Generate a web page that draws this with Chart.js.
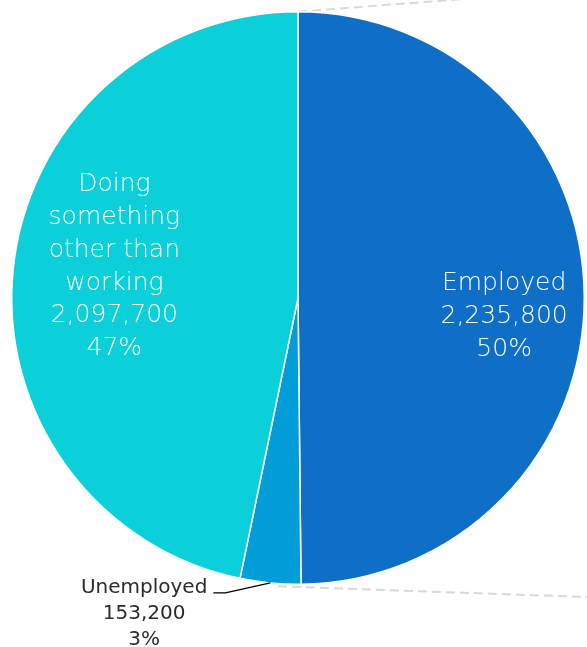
<!DOCTYPE html>
<html>
<head>
<meta charset="utf-8">
<script src="https://cdn.jsdelivr.net/npm/chart.js@4"></script>
<style>
  html, body { margin: 0; padding: 0; background: #fff; }
  #wrap { width: 587px; height: 647px; position: relative; }
</style>
</head>
<body>
<div id="wrap"><canvas id="chart"></canvas></div>
<script>
const categories = ['Employed', 'Unemployed', 'Doing something other than working'];
const values = [2235800, 153200, 2097700];
const colors = ['#0F6FC6', '#009DD9', '#0BD0D9'];

const FONT = '"DejaVu Sans", "Noto Sans", sans-serif';

// where each label sits: fraction of the radius along the slice middle, plus a nudge
const labelPlacement = [
    { inside: true, frac: 0.72, dy: 26, size: 25, weight: 200, color: '#ffffff' },
    { inside: false, size: 20, weight: 'normal', color: '#2b2b2b' },
    { inside: true, frac: 0.645, dy: -6, size: 25, weight: 200, color: '#ffffff' }
];

function wrapText(ctx, text, maxWidth) {
    const words = text.split(' ');
    const lines = [];
    let line = '';
    words.forEach(w => {
        const test = line ? line + ' ' + w : w;
        if (line && ctx.measureText(test).width > maxWidth) {
            lines.push(line);
            line = w;
        } else {
            line = test;
        }
    });
    if (line) lines.push(line);
    return lines;
}

const connectorLines = {
    id: 'connectorLines',
    beforeDatasetsDraw(chart) {
        const arc = chart.getDatasetMeta(0).data[0];
        if (!arc) return;
        const { x, y, outerRadius: r } = arc.getProps(['x', 'y', 'outerRadius'], true);
        const ctx = chart.ctx;
        const right = chart.width;
        ctx.save();
        ctx.strokeStyle = '#D9D9D9';
        ctx.lineWidth = 2;
        ctx.setLineDash([9, 5]);
        ctx.beginPath();
        ctx.moveTo(x, y - r);
        ctx.lineTo(right, y - r - 0.077 * (right - x));
        ctx.stroke();
        ctx.beginPath();
        const bx = x - 0.07 * r;
        ctx.moveTo(bx, y + r + 2);
        ctx.lineTo(right, y + r + 2 + 0.035 * (right - bx));
        ctx.stroke();
        ctx.restore();
    }
};

const sliceLabels = {
    id: 'sliceLabels',
    afterDatasetsDraw(chart) {
        const ctx = chart.ctx;
        const total = values.reduce((a, b) => a + b, 0);
        chart.getDatasetMeta(0).data.forEach((arc, i) => {
            const p = arc.getProps(['x', 'y', 'startAngle', 'endAngle', 'outerRadius'], true);
            const mid = (p.startAngle + p.endAngle) / 2;
            const place = labelPlacement[i];
            ctx.save();
            ctx.font = `${place.weight} ${place.size}px ${FONT}`;
            ctx.fillStyle = place.color;
            ctx.textAlign = 'center';
            ctx.textBaseline = 'alphabetic';
            const lines = wrapText(ctx, categories[i], 140);
            lines.push(values[i].toLocaleString('en-US'));
            lines.push(Math.round(values[i] / total * 100) + '%');
            const lh = place.size * 1.31;

            if (place.inside) {
                const ax = p.x + Math.cos(mid) * p.outerRadius * place.frac;
                const ay = p.y + Math.sin(mid) * p.outerRadius * place.frac + place.dy;
                lines.forEach((t, k) => {
                    ctx.fillText(t, ax, ay + (k - (lines.length - 1) / 2) * lh);
                });
            } else {
                const ox = p.x + Math.cos(mid) * p.outerRadius;
                const oy = p.y + Math.sin(mid) * p.outerRadius;
                const ex = ox - 45, ey = oy + 10;
                const tx = ex - 12;
                ctx.strokeStyle = '#000';
                ctx.lineWidth = 1.3;
                ctx.beginPath();
                ctx.moveTo(ox, oy);
                ctx.lineTo(ex, ey);
                ctx.lineTo(tx, ey);
                ctx.stroke();
                const w = ctx.measureText(lines[0]).width;
                const cx = tx - 6 - w / 2;
                lines.forEach((t, k) => {
                    ctx.fillText(t, cx, ey + k * lh);
                });
            }
            ctx.restore();
        });
    }
};

new Chart(document.getElementById('chart'), {
    type: 'pie',
    data: {
        labels: categories,
        datasets: [{
            data: values,
            backgroundColor: colors,
            borderColor: '#ffffff',
            borderWidth: 1.5
        }]
    },
    options: {
        responsive: true,
        maintainAspectRatio: false,
        animation: false,
        layout: { padding: { left: 11, top: 11, right: 2, bottom: 62 } },
        plugins: {
            legend: { display: false },
            tooltip: { enabled: false }
        }
    },
    plugins: [connectorLines, sliceLabels]
});
</script>
</body>
</html>
